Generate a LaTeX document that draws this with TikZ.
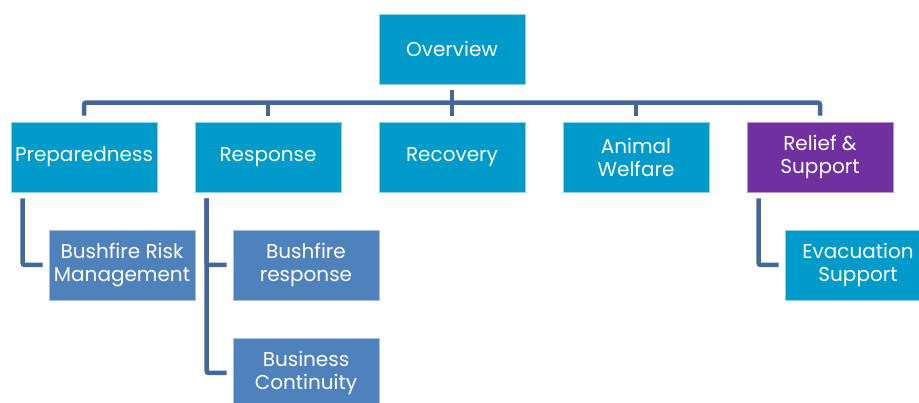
\documentclass[tikz,border=0pt]{standalone}
\usepackage{fontspec}
\setmainfont{Poppins}
\definecolor{boxblue}{HTML}{009BCA}
\definecolor{subblue}{HTML}{4F81BD}
\definecolor{relpurple}{HTML}{7030A0}
\definecolor{linkblue}{HTML}{43679B}

\begin{document}
\begin{tikzpicture}[x=1pt, y=1pt, node distance=184pt, font=\fontsize{20}{23}\selectfont, top node/.style={rectangle, draw=boxblue!45!white, line width=0.7pt, fill=boxblue, text=white, align=center, minimum width=146pt, minimum height=70pt, inner sep=0pt}, sub node/.style={top node, draw=subblue!50!white, fill=subblue}, link/.style={draw=linkblue, line width=4.5pt, rounded corners=2pt, shorten <=6pt, shorten >=6pt}] %px of the reference taken as pt
\useasboundingbox (0,0) rectangle (919,-403);
\clip (0,0) rectangle (919,-403);
\node[top node](prep) at (84,-157){Preparedness};
\node[top node](resp)[right of=prep]{Response};
\node[top node](rec)[right of=resp]{Recovery};
\node[top node](animal)[right of=rec]{Animal\\Welfare};
\node[top node, fill=relpurple, draw=relpurple!50!white](relief)[right of=animal]{Relief \&\\Support};
\node[top node, node distance=108pt](overview)[above of=rec]{Overview};
\node[sub node, node distance=108pt, xshift=38pt](risk)[below of=prep]{Bushfire Risk\\Management};
\node[sub node, node distance=108pt, xshift=38pt](bfresp)[below of=resp]{Bushfire\\response};
\node[sub node, node distance=108pt](cont)[below of=bfresp]{Business\\Continuity};
\node[top node, node distance=108pt, xshift=38pt](evac)[below of=relief]{Evacuation\\Support};
% tree lines
\draw[link] (overview.south) -- (rec.north);
\draw[link] (prep.north) -- ++(0,19) -| (relief.north);
\draw[link, shorten >=0pt] (resp.north) -- ++(0,19);
\draw[link, shorten >=0pt] (animal.north) -- ++(0,19);
\draw[link] ([xshift=12pt]prep.south west) |- (risk.west);
\draw[link] ([xshift=12pt]resp.south west) |- (bfresp.west);
\draw[link] ([xshift=12pt]resp.south west) |- (cont.west);
\draw[link] ([xshift=12pt]relief.south west) |- (evac.west);
\end{tikzpicture}
\end{document}
